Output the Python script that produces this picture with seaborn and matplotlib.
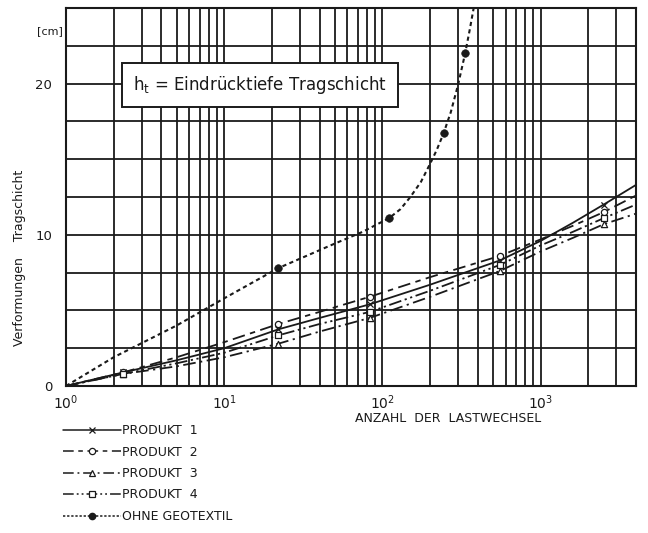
import matplotlib
matplotlib.use("Agg")
import matplotlib.pyplot as plt
from matplotlib.lines import Line2D
from matplotlib.ticker import LogLocator, MultipleLocator, FixedLocator, NullFormatter
import pandas as pd
import seaborn as sns

# Anzahl der Lastwechsel (log axis) and deformation of the base layer [cm]
product_x = [1, 2.3, 5, 10, 22, 40, 83, 200, 550, 1000, 1600, 2500, 4000]
produkt_1 = [0.0, 0.9, 1.7, 2.5, 3.75, 4.5, 5.4, 6.7, 8.3, 9.6, 10.8, 12.0, 13.3]
produkt_2 = [0.0, 0.9, 1.9, 2.9, 4.1, 4.9, 5.9, 7.2, 8.6, 9.7, 10.6, 11.5, 12.6]
produkt_3 = [0.0, 0.8, 1.3, 1.9, 2.8, 3.6, 4.5, 5.9, 7.6, 8.9, 9.8, 10.7, 11.4]
produkt_4 = [0.0, 0.8, 1.5, 2.2, 3.35, 4.1, 4.9, 6.3, 8.0, 9.3, 10.2, 11.1, 12.0]
# load cycles at which the products were measured (marker positions)
measured_x = [2.3, 22, 83, 550, 2500]

# without geotextile: traced curve and measured points
ohne_curve_x = [1, 2, 5, 10, 22, 47, 75, 110, 130, 150, 175, 200, 220, 243, 270, 300, 333, 355, 377]
ohne_curve_y = [0.0, 1.9, 4.0, 5.8, 7.8, 9.3, 10.2, 11.1, 11.7, 12.5, 13.5, 14.7, 15.6, 16.7,
                18.1, 19.9, 22.0, 23.5, 25.0]
ohne_points_x = [22, 110, 243, 333]
ohne_points_y = [7.8, 11.1, 16.7, 22.0]

legend_labels = ["PRODUKT  1", "PRODUKT  2", "PRODUKT  3", "PRODUKT  4", "OHNE GEOTEXTIL"]

sns.set_style("white")
plt.rcParams["font.family"] = ["DejaVu Sans"]

fig = plt.figure(figsize=(6.48, 5.33), dpi=100)
ax = fig.add_axes([66 / 648, 1 - 386 / 533, 570 / 648, 378 / 533])

ink = "#1a1a1a"
styles = [
    dict(ls="-", marker="x"),
    dict(ls=(0, (7, 3, 3, 3)), marker="o"),
    dict(ls=(0, (7, 2.5, 1.2, 2.5)), marker="^"),
    dict(ls=(0, (7, 2, 1.2, 2, 1.2, 2)), marker="s"),
]
series = [produkt_1, produkt_2, produkt_3, produkt_4]

for vals, st in zip(series, styles):
    df = pd.DataFrame({"n": product_x, "h": vals})
    sns.lineplot(data=df, x="n", y="h", ax=ax, color=ink, linewidth=1.3,
                 linestyle=st["ls"], estimator=None, sort=False)
    lookup = dict(zip(product_x, vals))
    mk = pd.DataFrame({"n": measured_x, "h": [lookup[x] for x in measured_x]})
    sns.scatterplot(data=mk, x="n", y="h", ax=ax, marker=st["marker"], s=20,
                    facecolor="white" if st["marker"] != "x" else ink,
                    edgecolor=ink, linewidth=0.9, zorder=4)

ohne_df = pd.DataFrame({"n": ohne_curve_x, "h": ohne_curve_y})
sns.lineplot(data=ohne_df, x="n", y="h", ax=ax, color=ink, linewidth=1.5,
             linestyle=(0, (2, 1.6)), estimator=None, sort=False)
pts_df = pd.DataFrame({"n": ohne_points_x, "h": ohne_points_y})
sns.scatterplot(data=pts_df, x="n", y="h", ax=ax, color=ink, s=30, edgecolor=ink, zorder=5)

ax.set_xscale("log")
ax.set_xlim(1, 4000)
ax.set_ylim(0, 25)

ax.xaxis.set_major_locator(LogLocator(base=10, numticks=10))
ax.xaxis.set_minor_locator(LogLocator(base=10, subs=range(2, 10), numticks=30))
ax.xaxis.set_minor_formatter(NullFormatter())
ax.yaxis.set_major_locator(FixedLocator([0, 10, 20]))
ax.yaxis.set_minor_locator(MultipleLocator(2.5))

ax.grid(True, which="both", color=ink, linewidth=1.3)
ax.set_axisbelow(True)
for sp in ax.spines.values():
    sp.set_color(ink)
    sp.set_linewidth(1.5)
ax.tick_params(which="both", length=0)
ax.tick_params(axis="x", pad=5, labelsize=10, colors=ink)
ax.tick_params(axis="y", pad=10, labelsize=9.5, colors=ink)

ax.set_xlabel("ANZAHL  DER  LASTWECHSEL", fontsize=9, color=ink)
ax.xaxis.set_label_coords(0.67, -0.068)
ax.set_ylabel("Verformungen    Tragschicht", fontsize=9, color=ink)
ax.yaxis.set_label_coords(-0.07, 0.34)

fig.text(37 / 648, 1 - 34 / 533, "[cm]", fontsize=8, color=ink)

ax.text(2.65, 19.9, "h$_\\mathsf{t}$ = Eindrücktiefe Tragschicht", fontsize=12, color=ink,
        va="center", ha="left",
        bbox=dict(boxstyle="square,pad=0.65", facecolor="white", edgecolor=ink, linewidth=1.4),
        zorder=6)

handles = [
    Line2D([], [], color=ink, lw=1.1, ls=st["ls"], marker=st["marker"], markersize=4.5,
           markerfacecolor="white", markeredgecolor=ink, markeredgewidth=0.9)
    for st in styles
]
handles.append(Line2D([], [], color=ink, lw=1.1, ls=(0, (1.5, 1.2)), marker="o",
                      markersize=4.5, markerfacecolor=ink, markeredgecolor=ink))
fig.legend(handles, legend_labels, loc="upper left", bbox_to_anchor=(58 / 648, 1 - 419 / 533),
           frameon=False, fontsize=9, handlelength=4.6, handletextpad=0.1,
           labelspacing=0.68, labelcolor=ink, borderaxespad=0)

fig.savefig("out.png", dpi=100)
